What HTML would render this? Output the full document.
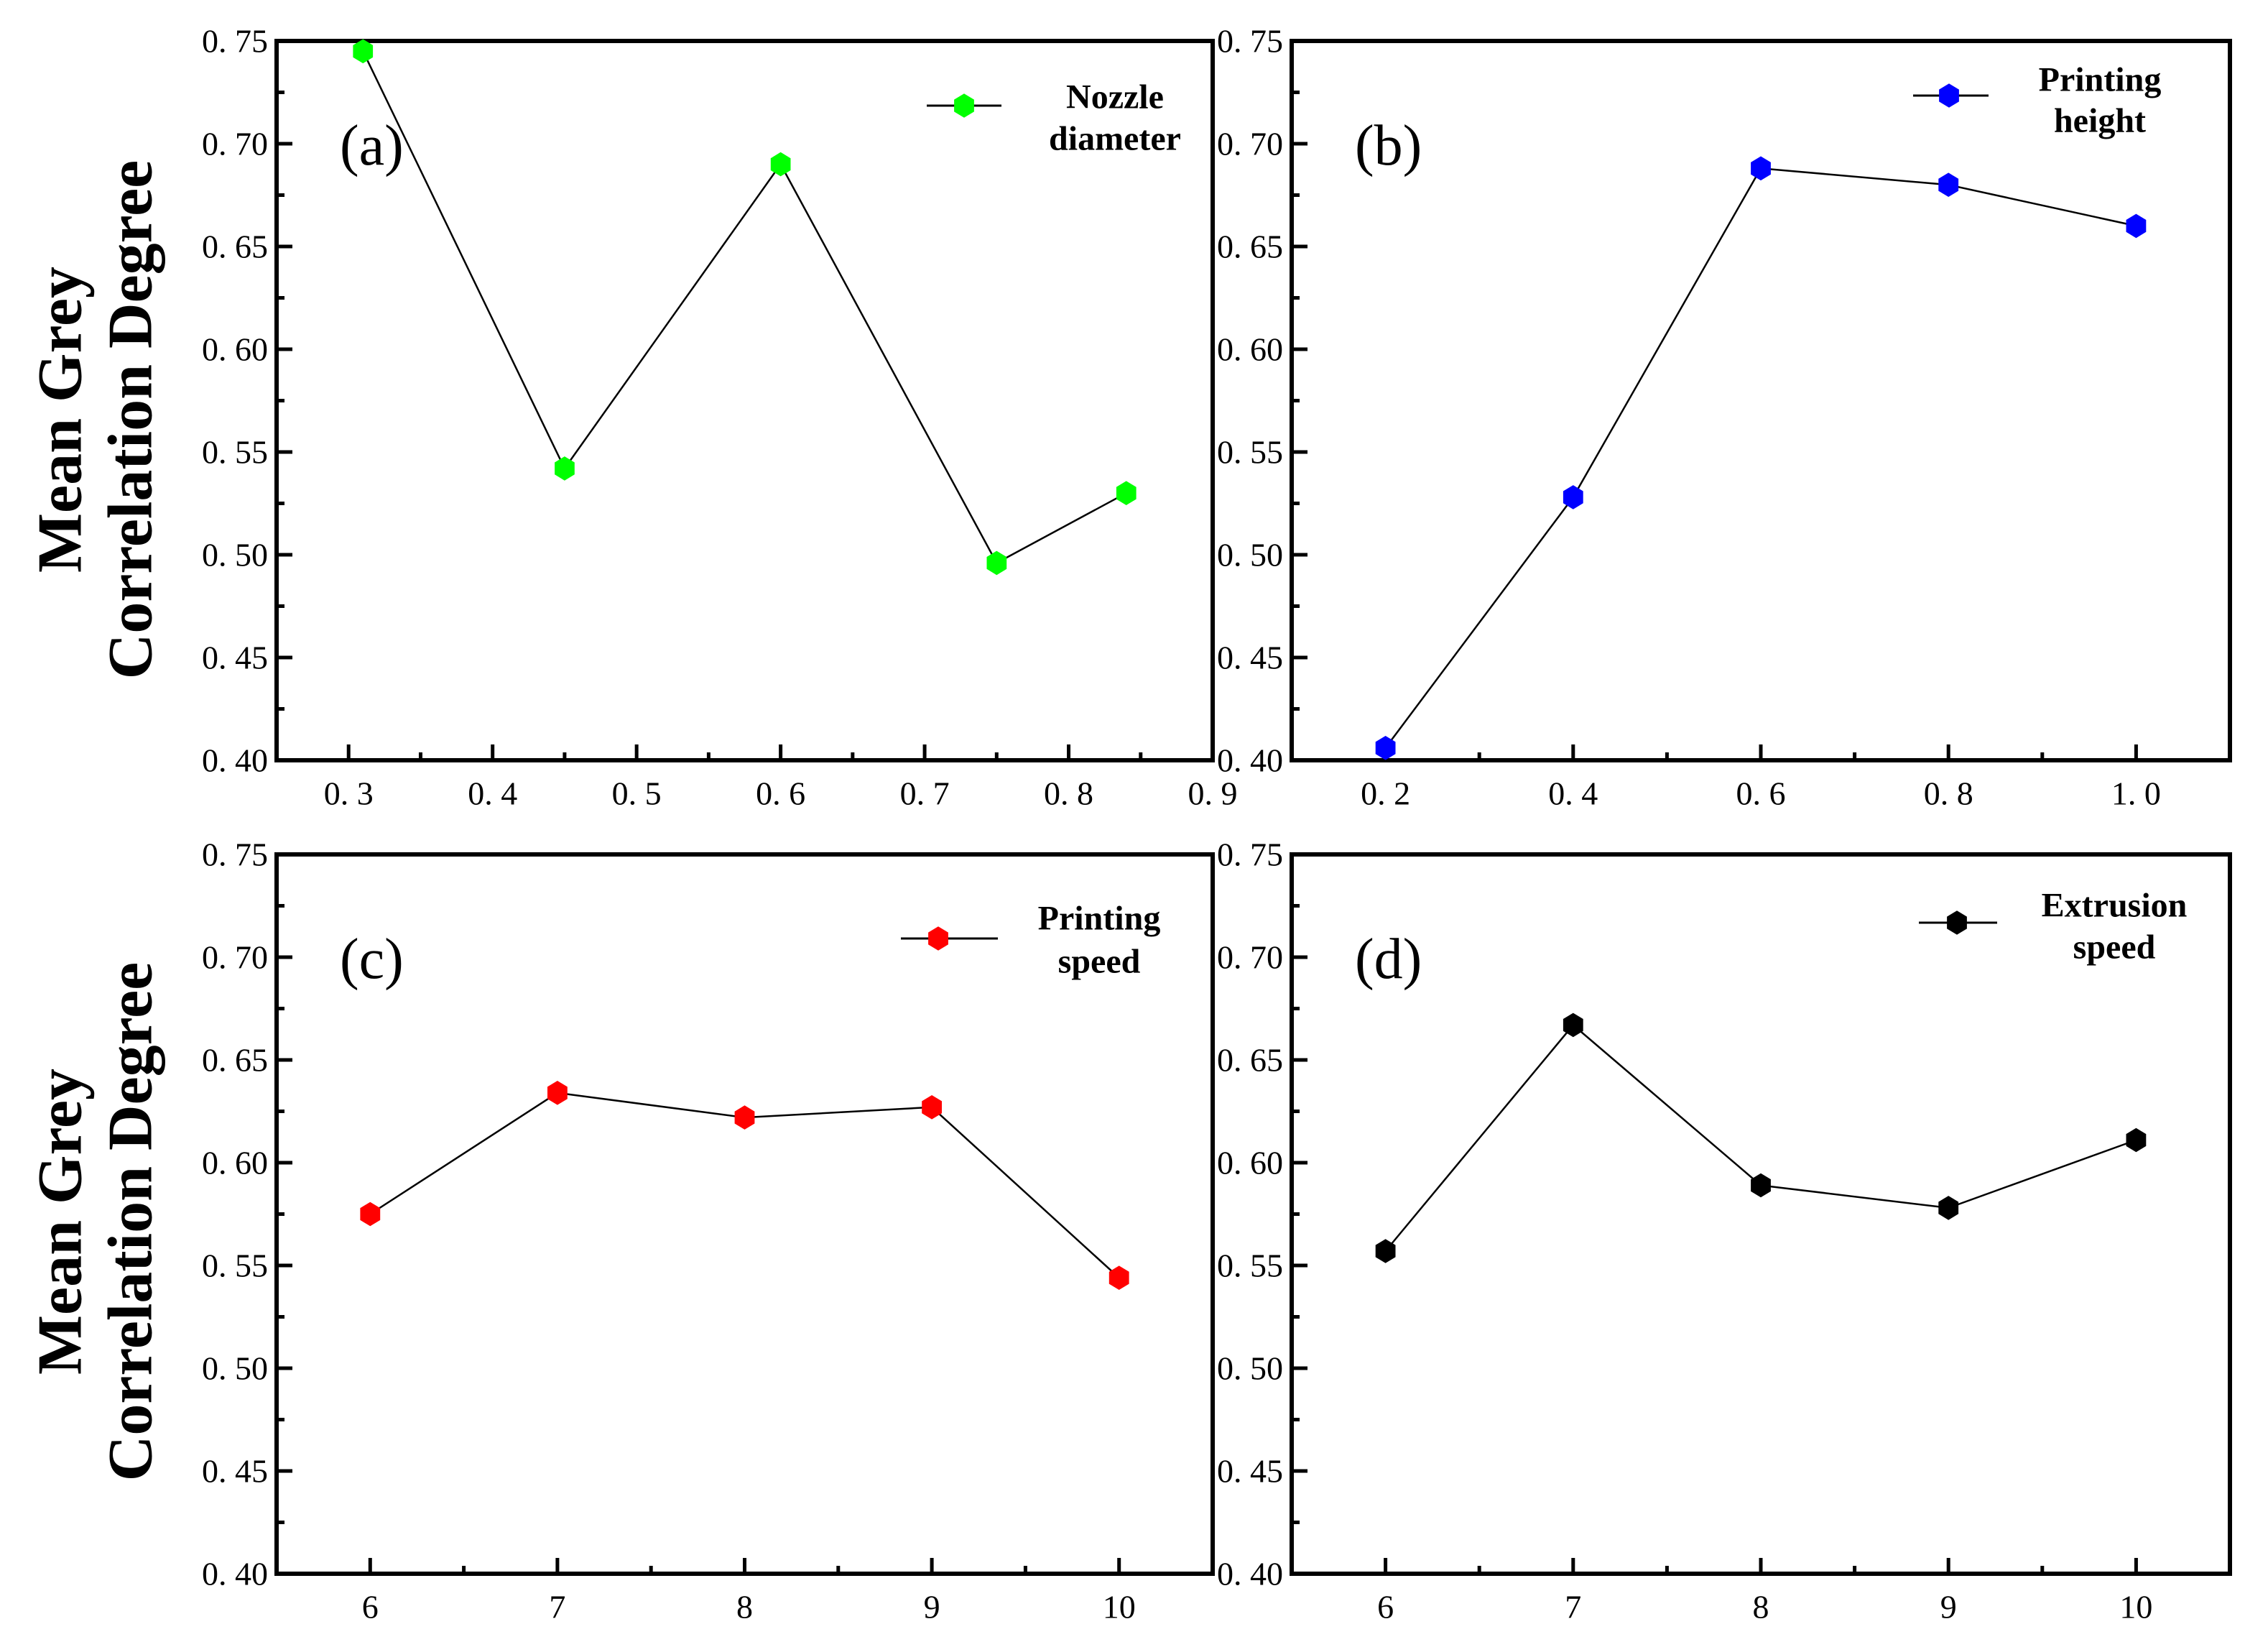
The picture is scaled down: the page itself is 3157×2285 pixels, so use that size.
<!DOCTYPE html>
<html><head><meta charset="utf-8"><style>
html,body{margin:0;padding:0;background:#fff;}
svg{display:block;}
text{font-family:"Liberation Serif","Noto Serif CJK SC",serif;}
</style></head><body>
<svg id="fig" xmlns="http://www.w3.org/2000/svg" width="3157" height="2285" viewBox="0 0 3157 2285">
<rect width="3157" height="2285" fill="#fff"/>
<g id="charts"></g>
</svg>
<script>
const aX=[0.31,0.45,0.6,0.75,0.84];
const aY=[0.745,0.542,0.690,0.496,0.530];
const aTicks=["0. 3","0. 4","0. 5","0. 6","0. 7","0. 8","0. 9"];
const bX=[0.2,0.4,0.6,0.8,1.0];
const bY=[0.406,0.528,0.688,0.680,0.660];
const bTicks=["0. 2","0. 4","0. 6","0. 8","1. 0"];
const cX=[6,7,8,9,10];
const cY=[0.575,0.634,0.622,0.627,0.544];
const cTicks=["6","7","8","9","10"];
const dX=[6,7,8,9,10];
const dY=[0.557,0.667,0.589,0.578,0.611];
const dTicks=["6","7","8","9","10"];
const yTicks=["0. 40","0. 45","0. 50","0. 55","0. 60","0. 65","0. 70","0. 75"];

const NS="http://www.w3.org/2000/svg";
const root=document.getElementById('charts');
function mk(tag,attrs,parent){const e=document.createElementNS(NS,tag);for(const k in attrs)e.setAttribute(k,attrs[k]);parent.appendChild(e);return e;}
function hex(cx,cy,r){let p=[];for(let i=0;i<6;i++){const a=Math.PI/180*(90+60*i);p.push((cx+r*Math.cos(a)).toFixed(1)+','+(cy-r*Math.sin(a)*1.05).toFixed(1));}return p.join(' ');}

const panels=[
 {id:'a',L:385,R:1688,T:57,B:1058,xmin:0.25,xmax:0.9,xt:[0.3,0.4,0.5,0.6,0.7,0.8,0.9],xl:aTicks,minor:0.05,xs:aX,ys:aY,col:'#00ff00',leg:['Nozzle','diameter'],legX:[1290,1394,1342],legY:147,txtX:1552,txtY:[135,193]},
 {id:'b',L:1798,R:3104,T:57,B:1058,xmin:0.1,xmax:1.1,xt:[0.2,0.4,0.6,0.8,1.0],xl:bTicks,minor:0.1,xs:bX,ys:bY,col:'#0000ff',leg:['Printing','height'],legX:[2663,2768,2713],legY:133,txtX:2923,txtY:[111,168]},
 {id:'c',L:385,R:1688,T:1189,B:2190,xmin:5.5,xmax:10.5,xt:[6,7,8,9,10],xl:cTicks,minor:0.5,xs:cX,ys:cY,col:'#ff0000',leg:['Printing','speed'],legX:[1254,1389,1306],legY:1306,txtX:1530,txtY:[1278,1338]},
 {id:'d',L:1798,R:3104,T:1189,B:2190,xmin:5.5,xmax:10.5,xt:[6,7,8,9,10],xl:dTicks,minor:0.5,xs:dX,ys:dY,col:'#000000',leg:['Extrusion','speed'],legX:[2671,2780,2724],legY:1284,txtX:2943,txtY:[1260,1318]}
];
panels.forEach(p=>{
 const g=mk('g',{},root);
 
 
 const sx=v=>p.L+(v-p.xmin)/(p.xmax-p.xmin)*(p.R-p.L);
 const sy=v=>p.B-(v-0.40)/(0.35)*(p.B-p.T);
 for(let i=0;i<=14;i++){const v=0.40+i*0.025;const y=sy(v);const major=i%2==0;
  const t=mk('line',{x1:p.L,x2:p.L+(major?22:11),y1:y,y2:y,stroke:'#000','stroke-width':5},g);
  
  
 }
 yTicks.forEach((s,i)=>{const t=mk('text',{x:p.L-12,y:sy(0.40+i*0.05),'text-anchor':'end','dominant-baseline':'central','font-size':46,transform:''},g);t.textContent=s;
  
  });
 for(let v=p.xt[0]-p.minor;v<=p.xmax+1e-9;v+=p.minor){if(v<p.xmin+1e-9)continue;
  const isMaj=p.xt.some(m=>Math.abs(m-v)<1e-6);const x=sx(v);
  if(Math.abs(x-p.R)<2)continue;
  const t=mk('line',{x1:x,x2:x,y1:p.B,y2:p.B-(isMaj?22:11),stroke:'#000','stroke-width':5},g);
  
  
 }
 p.xt.forEach((v,i)=>{const t=mk('text',{x:sx(v),y:p.B+46,'text-anchor':'middle','dominant-baseline':'central','font-size':46},g);t.textContent=p.xl[i];
  
  });
 const fr=mk('rect',{x:p.L,y:p.T,width:p.R-p.L,height:p.B-p.T,fill:'none',stroke:'#000','stroke-width':6},g);
 
 
 const pts=p.xs.map((x,i)=>sx(x).toFixed(1)+','+sy(p.ys[i]).toFixed(1)).join(' ');
 const ln=mk('polyline',{points:pts,fill:'none',stroke:'#000','stroke-width':2.5},g);
 
 
 p.xs.forEach((x,i)=>{const m=mk('polygon',{points:hex(sx(x),sy(p.ys[i]),16),fill:p.col},g);
  
  });
 const lab=mk('text',{x:p.L+88,y:p.T+172,'font-size':80},g);lab.textContent='('+p.id+')';
 
 
 const ll=mk('line',{x1:p.legX[0],x2:p.legX[1],y1:p.legY,y2:p.legY,stroke:'#000','stroke-width':3},g);
 
 
 const lm=mk('polygon',{points:hex(p.legX[2],p.legY,16),fill:p.col},g);
 
 
 p.leg.forEach((s,i)=>{const t=mk('text',{x:p.txtX,y:p.txtY[i],'text-anchor':'middle','dominant-baseline':'central','font-size':48,'font-weight':'bold'},g);t.textContent=s;
  
  });
});
[['Mean Grey',84,584],['Correlation Degree',182,584],['Mean Grey',84,1700],['Correlation Degree',182,1700]].forEach(([s,x,y])=>{
 const t=mk('text',{transform:`translate(${x},${y}) rotate(-90)`,'text-anchor':'middle','dominant-baseline':'central','font-size':88,'font-weight':'bold'},root);
 t.textContent=s;
 
 
});
</script>
</body></html>
